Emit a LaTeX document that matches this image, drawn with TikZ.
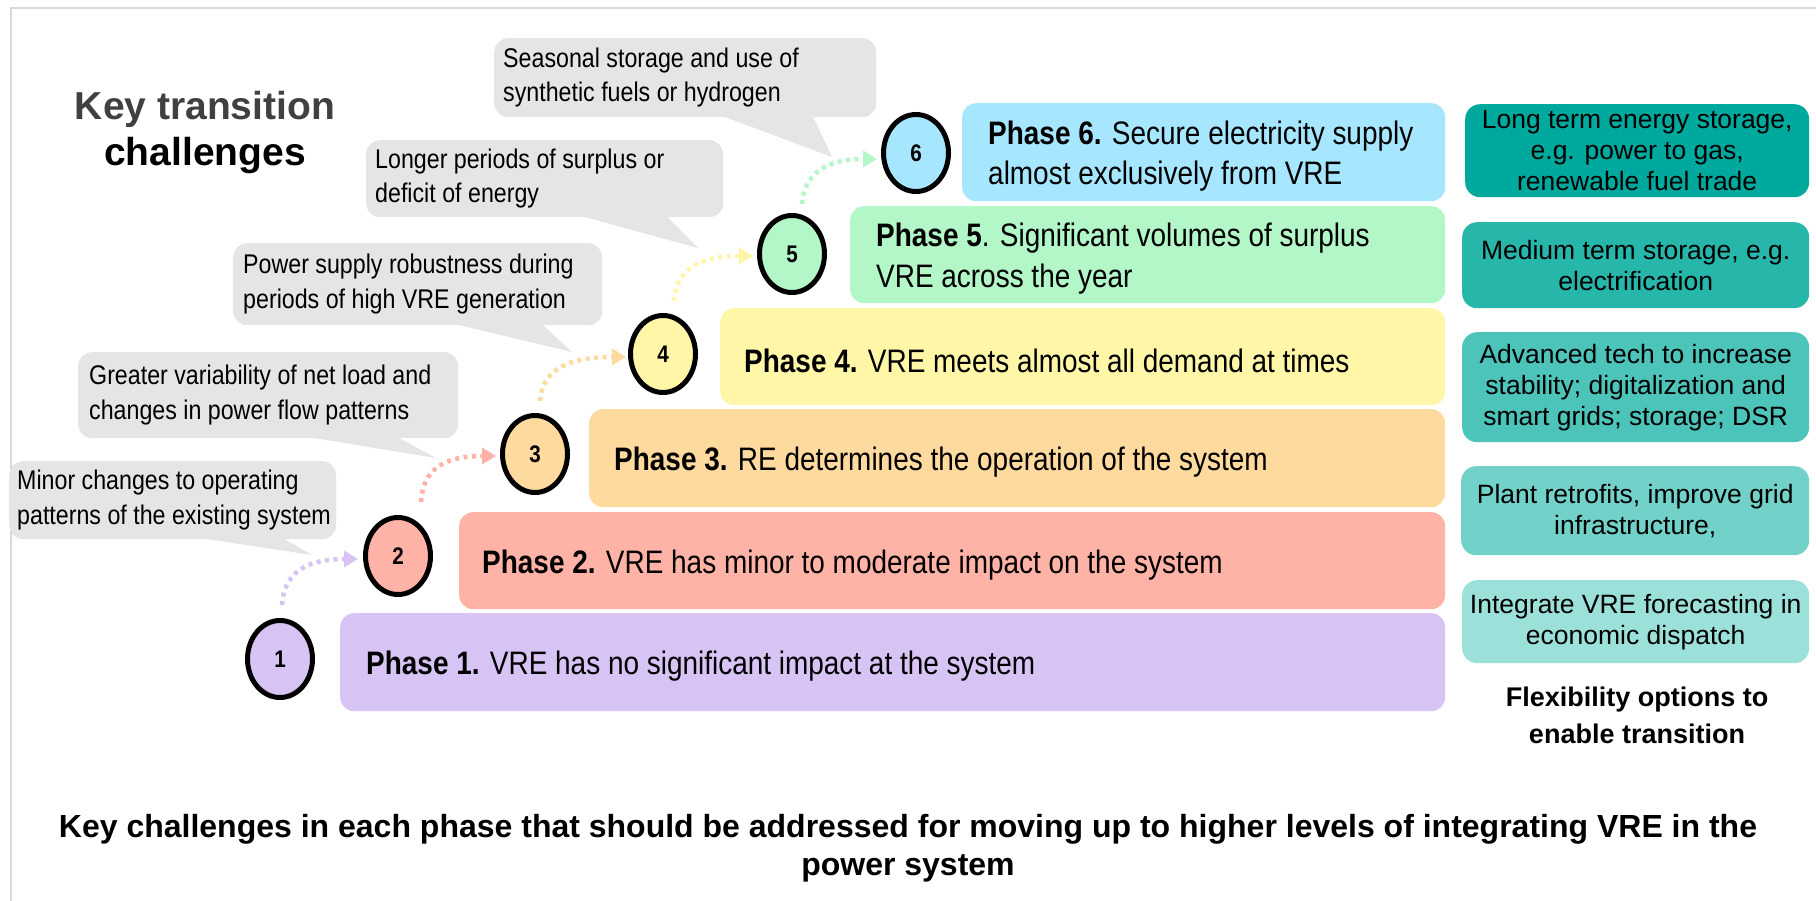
\documentclass[tikz,border=0pt]{standalone}
\usepackage{fontspec}
\setmainfont{Liberation Sans}
\newfontfamily\narfont[FakeStretch=0.86]{Liberation Sans}
\usetikzlibrary{shapes.geometric,arrows.meta,calc}

\definecolor{phA}{HTML}{D7C4F5}
\definecolor{phB}{HTML}{FFB3A6}
\definecolor{phC}{HTML}{FFDA9F}
\definecolor{phD}{HTML}{FFF6A8}
\definecolor{phE}{HTML}{B3F6C8}
\definecolor{phF}{HTML}{A6E7FF}
\definecolor{tA}{HTML}{00A99D}
\definecolor{tB}{HTML}{26B6AA}
\definecolor{tC}{HTML}{4CC4BA}
\definecolor{tD}{HTML}{72D2CA}
\definecolor{tE}{HTML}{9CE0DA}
\definecolor{callgrey}{HTML}{E5E5E5}
\definecolor{titlegrey}{HTML}{404040}
\definecolor{framegrey}{HTML}{D9D9D9}

\begin{document}
\begin{tikzpicture}[x=1pt,y=-1pt,
  phbox/.style={rounded corners=14pt, inner sep=0pt, draw=none, anchor=north west},
  phtext/.style={align=left, inner sep=0pt, anchor=west, font=\narfont\fontsize{32.5pt}{40.5pt}\selectfont},
  num/.style={ellipse, draw=black, line width=5pt, minimum width=65pt, minimum height=77pt, inner sep=0pt, font=\narfont\bfseries\fontsize{24pt}{24pt}\selectfont},
  dotarrow/.style={line width=4.5pt, dash pattern=on 4pt off 4.5pt, -{Triangle[length=14pt,width=16pt]}},
  cbox/.style={rounded corners=14pt, inner sep=0pt, fill=callgrey, anchor=north west},
  ctext/.style={align=left, inner sep=0pt, anchor=west, font=\narfont\fontsize{27pt}{34.5pt}\selectfont},
  tbox/.style={rounded corners=15pt, inner sep=0pt, anchor=north west, align=center, font=\fontsize{26.5pt}{31pt}\selectfont},
]
\useasboundingbox (0,0) rectangle (1816,901);
\fill[white] (0,0) rectangle (1816,901);
\draw[framegrey, line width=2pt] (1816,8) -- (11,8) -- (11,901);

% title
\node[font=\bfseries\fontsize{39pt}{46pt}\selectfont, align=center, inner sep=0pt] (title) at (205,133) {\textcolor{titlegrey}{Key transition}\\challenges};

% callouts
\node[cbox, minimum width=327pt, minimum height=78pt] (k1) at (9,461) {};
\node[cbox, minimum width=380pt, minimum height=86pt] (k2) at (78,352) {};
\node[cbox, minimum width=369pt, minimum height=82pt] (k3) at (233,243) {};
\node[cbox, minimum width=357pt, minimum height=77pt] (k4) at (366,140) {};
\node[cbox, minimum width=382pt, minimum height=79pt] (k5) at (494,38) {};
\coordinate (k1tip) at (312,555);
\coordinate (k2tip) at (436,458);
\coordinate (k3tip) at (572,352);
\coordinate (k4tip) at (698,248);
\coordinate (k5tip) at (832,157);
\fill[callgrey] ([shift={(181,-3)}]k1.south west) -- (k1tip) -- ([shift={(271,-3)}]k1.south west) -- cycle;
\fill[callgrey] ([shift={(220,-3)}]k2.south west) -- (k2tip) -- ([shift={(316,-3)}]k2.south west) -- cycle;
\fill[callgrey] ([shift={(215,-3)}]k3.south west) -- (k3tip) -- ([shift={(307,-3)}]k3.south west) -- cycle;
\fill[callgrey] ([shift={(209,-3)}]k4.south west) -- (k4tip) -- ([shift={(299,-3)}]k4.south west) -- cycle;
\fill[callgrey] ([shift={(224,-3)}]k5.south west) -- (k5tip) -- ([shift={(318,-3)}]k5.south west) -- cycle;
\node[ctext] (k1t) at ([xshift=8pt]k1.west) {Minor changes to operating\\patterns of the existing system};
\node[ctext] (k2t) at ([xshift=11pt]k2.west) {Greater variability of net load and\\changes in power flow patterns};
\node[ctext] (k3t) at ([xshift=10pt]k3.west) {Power supply robustness during\\periods of high VRE generation};
\node[ctext] (k4t) at ([xshift=9pt]k4.west) {Longer periods of surplus or\\deficit of energy};
\node[ctext] (k5t) at ([xshift=9pt]k5.west) {Seasonal storage and use of\\synthetic fuels or hydrogen};

% phase boxes
\node[phbox, fill=phA, minimum width=1105pt, minimum height=98pt] (p1) at (340,613) {};
\node[phbox, fill=phB, minimum width=986pt, minimum height=97pt] (p2) at (459,512) {};
\node[phbox, fill=phC, minimum width=856pt, minimum height=98pt] (p3) at (589,409) {};
\node[phbox, fill=phD, minimum width=725pt, minimum height=97pt] (p4) at (720,308) {};
\node[phbox, fill=phE, minimum width=595pt, minimum height=97pt] (p5) at (850,206) {};
\node[phbox, fill=phF, minimum width=483pt, minimum height=98pt] (p6) at (962,103) {};
\node[phtext] (p1t) at ([shift={(26,4)}]p1.west) {\textbf{Phase 1.} VRE has no significant impact at the system};
\node[phtext] (p2t) at ([shift={(23,4)}]p2.west) {\textbf{Phase 2.} VRE has minor to moderate impact on the system};
\node[phtext] (p3t) at ([shift={(25,4)}]p3.west) {\textbf{Phase 3.} RE determines the operation of the system};
\node[phtext] (p4t) at ([shift={(24,4)}]p4.west) {\textbf{Phase 4.} VRE meets almost all demand at times};
\node[phtext] (p5t) at ([shift={(26,4)}]p5.west) {\textbf{Phase 5}. Significant volumes of surplus\\VRE across the year};
\node[phtext] (p6t) at ([shift={(26,4)}]p6.west) {\textbf{Phase 6.} Secure electricity supply\\almost exclusively from VRE};

% numbered circles
\node[num, fill=phA] (c1) at (280,659) {1};
\node[num, fill=phB] (c2) at (398,556) {2};
\node[num, fill=phC] (c3) at (535,454) {3};
\node[num, fill=phD] (c4) at (663,354) {4};
\node[num, fill=phE] (c5) at (792,254) {5};
\node[num, fill=phF] (c6) at (916,153) {6};

% dotted arrows
\draw[dotarrow, color=phA] ([shift={(2,-13)}]c1.north) .. controls ([shift={(4,-43)}]c1.north) and ([shift={(-60,3)}]c2.west) .. ([shift={(-5,3)}]c2.west);
\draw[dotarrow, color=phB] ([shift={(23,-13)}]c2.north) .. controls ([shift={(25,-43)}]c2.north) and ([shift={(-60,2)}]c3.west) .. ([shift={(-4,2)}]c3.west);
\draw[dotarrow, color=phC] ([shift={(5,-12)}]c3.north) .. controls ([shift={(7,-42)}]c3.north) and ([shift={(-62,3)}]c4.west) .. ([shift={(-2,3)}]c4.west);
\draw[dotarrow, color=phD] ([shift={(11,-12)}]c4.north) .. controls ([shift={(13,-42)}]c4.north) and ([shift={(-60,2)}]c5.west) .. ([shift={(-4,2)}]c5.west);
\draw[dotarrow, color=phE] ([shift={(10,-9)}]c5.north) .. controls ([shift={(12,-39)}]c5.north) and ([shift={(-55,6)}]c6.west) .. ([shift={(-4,6)}]c6.west);

% flexibility options
\node[tbox, fill=tA, minimum width=344pt, minimum height=93pt] (f1) at (1465,104) {Long term energy storage,\\e.g. power to gas,\\renewable fuel trade};
\node[tbox, fill=tB, minimum width=347pt, minimum height=86pt] (f2) at (1462,222) {Medium term storage, e.g.\\electrification};
\node[tbox, fill=tC, minimum width=347pt, minimum height=110pt] (f3) at (1462,332) {Advanced tech to increase\\stability; digitalization and\\smart grids; storage; DSR};
\node[tbox, fill=tD, minimum width=348pt, minimum height=89pt] (f4) at (1461,466) {Plant retrofits, improve grid\\infrastructure,};
\node[tbox, fill=tE, minimum width=347pt, minimum height=83pt] (f5) at (1462,580) {Integrate VRE forecasting in\\economic dispatch};
\node[font=\bfseries\fontsize{27pt}{37pt}\selectfont, align=center, inner sep=0pt] (flex) at (1637,715) {Flexibility options to\\enable transition};

% caption
\node[font=\bfseries\fontsize{32pt}{38pt}\selectfont, align=center, inner sep=0pt] (caption) at (908,848) {Key challenges in each phase that should be addressed for moving up to higher levels of integrating VRE in the\\power system};
\end{tikzpicture}
\end{document}
